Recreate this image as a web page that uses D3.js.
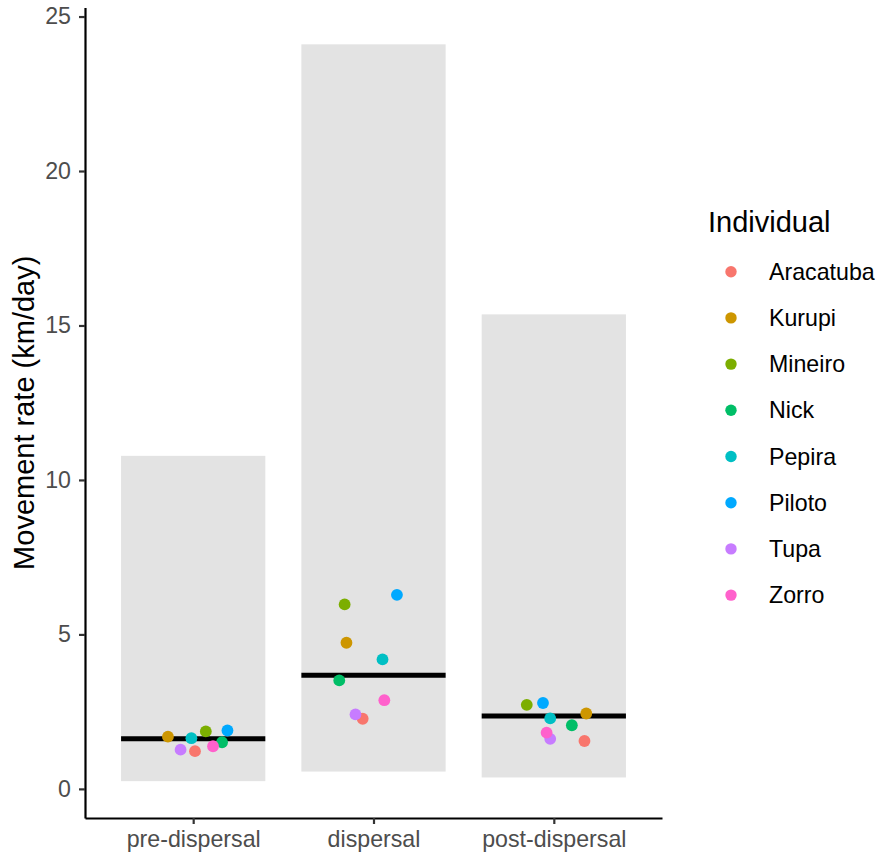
<!DOCTYPE html>
<html>
<head>
<meta charset="utf-8">
<script src="https://cdn.jsdelivr.net/npm/d3@7"></script>
<style>
  html, body { margin: 0; padding: 0; background: #ffffff; }
  svg { display: block; font-family: "Liberation Sans", Arial, sans-serif; }
</style>
</head>
<body>
<svg id="chart" width="880" height="858"></svg>
<script>
// Dispersal phases on the x axis
const phases = ["pre-dispersal", "dispersal", "post-dispersal"];

// Tracked individuals (legend order)
const individuals = ["Aracatuba", "Kurupi", "Mineiro", "Nick", "Pepira", "Piloto", "Tupa", "Zorro"];

// Range of daily movement rates per phase (grey boxes, km/day)
const rangeMin = [0.25, 0.56, 0.37];
const rangeMax = [10.78, 24.10, 15.36];

// Median movement rate per phase (black bars, km/day)
const medians = [1.62, 3.68, 2.36];

// Mean movement rate per individual in each phase (km/day), ordered as `individuals`
const ratePre  = [1.22, 1.69, 1.86, 1.51, 1.64, 1.89, 1.27, 1.38];
const rateDisp = [2.27, 4.73, 5.97, 3.51, 4.19, 6.28, 2.41, 2.87];
const ratePost = [1.55, 2.44, 2.72, 2.06, 2.28, 2.78, 1.62, 1.82];

// Horizontal jitter per point, as a fraction of the category step
const jitterPre  = [0.01, -0.14, 0.07, 0.16, -0.01, 0.19, -0.07, 0.11];
const jitterDisp = [-0.06, -0.15, -0.16, -0.19, 0.05, 0.13, -0.10, 0.06];
const jitterPost = [0.17, 0.18, -0.15, 0.10, -0.02, -0.06, -0.02, -0.04];

const yTicks = [0, 5, 10, 15, 20, 25];

const palette = ["#F8766D", "#CD9600", "#7CAE00", "#00BE67", "#00BFC4", "#00A9FF", "#C77CFF", "#FF61CC"];

const rates = [ratePre, rateDisp, ratePost];
const jitters = [jitterPre, jitterDisp, jitterPost];

const points = [];
phases.forEach((p, pi) => {
  individuals.forEach((ind, ii) => {
    points.push({ phase: p, individual: ind, value: rates[pi][ii], jitter: jitters[pi][ii] });
  });
});

const boxes = phases.map((p, i) => ({ phase: p, lo: rangeMin[i], hi: rangeMax[i], median: medians[i] }));

// Panel geometry
const panel = { left: 85, right: 662, top: 7.5, bottom: 818 };

const svg = d3.select("#chart");

const x = d3.scalePoint()
  .domain(phases)
  .range([panel.left, panel.right])
  .padding(0.6);
const step = x.step();
const barW = step * 0.8;

// Continuous y scale with 5% expansion around the data range
const dataLo = d3.min(rangeMin), dataHi = d3.max(rangeMax);
const pad = (dataHi - dataLo) * 0.05;
const y = d3.scaleLinear()
  .domain([dataLo - pad, dataHi + pad])
  .range([panel.bottom, panel.top]);

const color = d3.scaleOrdinal().domain(individuals).range(palette);

// Range boxes
svg.append("g")
  .selectAll("rect")
  .data(boxes)
  .join("rect")
  .attr("x", d => x(d.phase) - barW / 2)
  .attr("width", barW)
  .attr("y", d => y(d.hi))
  .attr("height", d => y(d.lo) - y(d.hi))
  .attr("fill", "#E3E3E3");

// Median bars
svg.append("g")
  .selectAll("line")
  .data(boxes)
  .join("line")
  .attr("x1", d => x(d.phase) - barW / 2)
  .attr("x2", d => x(d.phase) + barW / 2)
  .attr("y1", d => y(d.median))
  .attr("y2", d => y(d.median))
  .attr("stroke", "#000")
  .attr("stroke-width", 5);

// Individual points
svg.append("g")
  .selectAll("circle")
  .data(points)
  .join("circle")
  .attr("cx", d => x(d.phase) + d.jitter * step)
  .attr("cy", d => y(d.value))
  .attr("r", 5.9)
  .attr("fill", d => color(d.individual));

// Axes
const yAxis = d3.axisLeft(y).tickValues(yTicks).tickSize(6).tickSizeOuter(0).tickPadding(8);
const gy = svg.append("g").attr("transform", `translate(${panel.left},0)`).call(yAxis);

const xAxis = d3.axisBottom(x).tickSize(6).tickSizeOuter(0).tickPadding(7);
const gx = svg.append("g").attr("transform", `translate(0,${panel.bottom})`).call(xAxis);

[gy, gx].forEach(g => {
  g.select(".domain").attr("stroke", "#000").attr("stroke-width", 2.2);
  g.selectAll(".tick line").attr("stroke", "#333").attr("stroke-width", 2.2);
  g.selectAll(".tick text")
    .attr("fill", "#4D4D4D")
    .style("font-size", "23.2px")
    .style("font-family", "'Liberation Sans', Arial, sans-serif");
});
gx.selectAll(".tick text").attr("dy", "0.71em");

// Y axis title
svg.append("text")
  .attr("transform", `translate(34,${(panel.top + panel.bottom) / 2}) rotate(-90)`)
  .attr("text-anchor", "middle")
  .style("font-size", "29px")
  .attr("fill", "#000")
  .text("Movement rate (km/day)");

// Legend
const legend = svg.append("g");
legend.append("text")
  .attr("x", 708)
  .attr("y", 232)
  .style("font-size", "29px")
  .attr("fill", "#000")
  .text("Individual");

const item = legend.selectAll("g.item")
  .data(individuals)
  .join("g")
  .attr("class", "item")
  .attr("transform", (d, i) => `translate(731,${271.7 + i * 46.2})`);

item.append("circle")
  .attr("r", 5.7)
  .attr("fill", d => color(d));

item.append("text")
  .attr("x", 38)
  .attr("y", 8)
  .style("font-size", "23.2px")
  .attr("fill", "#000")
  .text(d => d);
</script>
</body>
</html>
